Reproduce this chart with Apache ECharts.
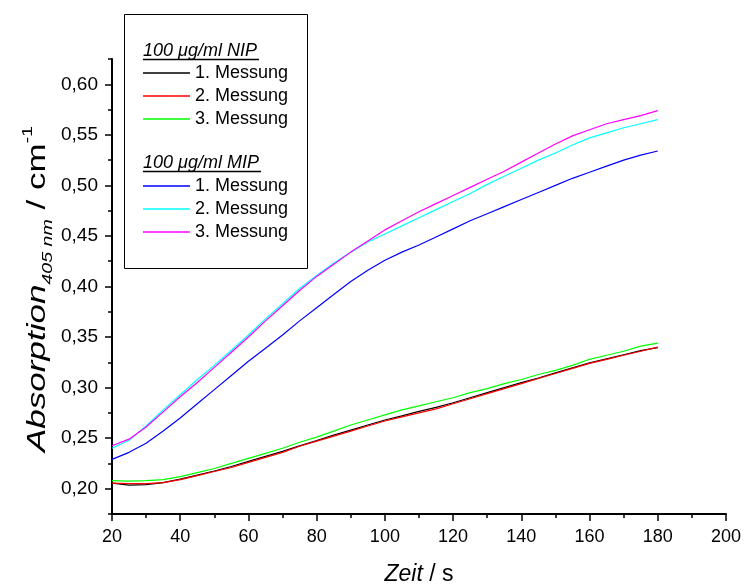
<!DOCTYPE html>
<html>
<head>
<meta charset="utf-8">
<script src="https://cdn.jsdelivr.net/npm/echarts@6/dist/echarts.min.js"></script>
<style>
html,body{margin:0;padding:0;background:#fff;}
#main{width:744px;height:585px;}
</style>
</head>
<body>
<div id="main"></div>
<script>
var myChart = echarts.init(document.getElementById('main'));

// Zeit in s
var zeit = [20,25,30,35,40,45,50,55,60,65,70,75,80,85,90,95,100,105,110,115,120,125,130,135,140,145,150,155,160,165,170,175,180];

// 100 ug/ml NIP
var nip1 = [0.2055,0.2035,0.204,0.206,0.2095,0.2135,0.2175,0.222,0.227,0.232,0.237,0.2425,0.2475,0.253,0.258,0.263,0.268,0.272,0.2765,0.2805,0.285,0.290,0.295,0.300,0.305,0.3095,0.3145,0.3195,0.3245,0.3285,0.3325,0.3365,0.3395];
var nip2 = [0.2055,0.205,0.205,0.206,0.209,0.213,0.217,0.221,0.226,0.231,0.236,0.242,0.247,0.252,0.257,0.262,0.267,0.271,0.275,0.279,0.284,0.289,0.294,0.299,0.304,0.309,0.314,0.319,0.324,0.328,0.332,0.336,0.340];
var nip3 = [0.208,0.2075,0.208,0.209,0.212,0.216,0.220,0.225,0.230,0.235,0.240,0.246,0.251,0.257,0.263,0.268,0.273,0.278,0.282,0.286,0.290,0.295,0.299,0.304,0.308,0.313,0.317,0.322,0.328,0.332,0.336,0.341,0.344];

// 100 ug/ml MIP
var mip1 = [0.229,0.236,0.245,0.257,0.270,0.284,0.298,0.312,0.326,0.339,0.352,0.366,0.379,0.392,0.405,0.416,0.426,0.434,0.441,0.449,0.457,0.465,0.472,0.479,0.486,0.493,0.500,0.507,0.513,0.519,0.525,0.530,0.534];
var mip2 = [0.240,0.248,0.262,0.278,0.293,0.308,0.322,0.337,0.352,0.368,0.383,0.398,0.411,0.423,0.434,0.444,0.452,0.460,0.468,0.476,0.484,0.492,0.501,0.509,0.517,0.525,0.532,0.540,0.547,0.552,0.557,0.561,0.565];
var mip3 = [0.2425,0.249,0.261,0.276,0.291,0.305,0.320,0.335,0.350,0.366,0.381,0.396,0.410,0.422,0.434,0.445,0.456,0.465,0.474,0.482,0.490,0.498,0.506,0.514,0.523,0.532,0.541,0.549,0.555,0.561,0.565,0.569,0.574];

var yTicks = [0.20,0.25,0.30,0.35,0.40,0.45,0.50,0.55,0.60];

var font = 'Liberation Sans';

function pairs(ys){
	return zeit.map(function(x, i){ return [x, ys[i]]; });
}

function mkSeries(name, data, color){
	return {
		name: name,
		type: 'line',
		data: pairs(data),
		symbol: 'none',
		smooth: false,
		animation: false,
		lineStyle: {color: color, width: 1.2},
		itemStyle: {color: color}
	};
}

function mkLegend(names, top){
	return {
		orient: 'vertical',
		left: 138, top: top,
		icon: 'rect',
		itemWidth: 47, itemHeight: 1.5, itemGap: 5,
		selectedMode: false,
		data: names,
		formatter: function(n){ return n.slice(-1) + '. Messung'; },
		textStyle: {fontFamily: font, fontSize: 18, color: '#000'}
	};
}

var option = {
	animation: false,
	grid: {left: 112, right: 18, top: 59, bottom: 71, outerBoundsMode: 'none', containLabel: false},
	xAxis: {
		type: 'value',
		min: 20, max: 200, interval: 20,
		name: '{a|Zeit}{b| / s}',
		nameLocation: 'middle',
		nameGap: 49,
		nameTextStyle: {
			rich: {
				a: {fontFamily: font, fontSize: 23, fontStyle: 'italic', color: '#000'},
				b: {fontFamily: font, fontSize: 23, color: '#000'}
			}
		},
		axisLine: {lineStyle: {color: '#000', width: 2}},
		axisTick: {length: 7, lineStyle: {color: '#000', width: 1.5}},
		minorTick: {show: true, splitNumber: 2, length: 4, lineStyle: {color: '#000', width: 1.5}},
		axisLabel: {fontFamily: font, fontSize: 18, color: '#000', margin: 14},
		splitLine: {show: false}
	},
	yAxis: [{
		type: 'value',
		min: 0.175, max: 0.625, interval: 0.025,
		axisLine: {lineStyle: {color: '#000', width: 2}},
		axisTick: {length: 7, customValues: yTicks, lineStyle: {color: '#000', width: 1.5}},
		axisLabel: {
			fontFamily: font, fontSize: 19, color: '#000', margin: 14,
			customValues: yTicks,
			formatter: function(v){ return v.toFixed(2).replace('.', ','); }
		},
		splitLine: {show: false}
	}, {
		type: 'value',
		position: 'left',
		min: 0.175, max: 0.625, interval: 0.025,
		axisLine: {show: false},
		axisTick: {length: 4, lineStyle: {color: '#000', width: 1.5}},
		axisLabel: {show: false},
		splitLine: {show: false}
	}],
	legend: [
		mkLegend(['NIP 1', 'NIP 2', 'NIP 3'], 59),
		mkLegend(['MIP 1', 'MIP 2', 'MIP 3'], 172)
	],
	graphic: [
		{type: 'rect', z: 0, shape: {x: 124.5, y: 14.5, width: 183, height: 254}, style: {fill: '#fff', stroke: '#000', lineWidth: 1}},
		{type: 'text', z: 10, left: 143, top: 42, style: {text: '100 \u03bcg/ml NIP', font: 'italic 18px "Liberation Sans"', fill: '#000'}},
		{type: 'line', z: 10, shape: {x1: 143, y1: 59.5, x2: 259, y2: 59.5}, style: {stroke: '#000', lineWidth: 1.5}},
		{type: 'text', z: 10, left: 143, top: 154, style: {text: '100 \u03bcg/ml MIP', font: 'italic 18px "Liberation Sans"', fill: '#000'}},
		{type: 'line', z: 10, shape: {x1: 143, y1: 171.5, x2: 261, y2: 171.5}, style: {stroke: '#000', lineWidth: 1.5}},
		// y axis title, stretched along its length like the original
		{
			type: 'text', z: 10, x: 38, y: 289,
			rotation: Math.PI / 2, scaleX: 1.4, scaleY: 1,
			style: {
				text: '{a|Absorption}{s|405 nm}{b| / cm}{p|-1}',
				align: 'center', verticalAlign: 'middle',
				rich: {
					a: {fontFamily: font, fontSize: 25, fontStyle: 'italic', fill: '#000', lineHeight: 34},
					s: {fontFamily: font, fontSize: 14, fontStyle: 'italic', fill: '#000', verticalAlign: 'bottom', lineHeight: 34},
					b: {fontFamily: font, fontSize: 25, fill: '#000', lineHeight: 34},
					p: {fontFamily: font, fontSize: 14, fill: '#000', verticalAlign: 'top', lineHeight: 34}
				}
			}
		}
	],
	series: [
		mkSeries('NIP 1', nip1, '#000000'),
		mkSeries('NIP 2', nip2, '#ff0000'),
		mkSeries('NIP 3', nip3, '#00ff00'),
		mkSeries('MIP 1', mip1, '#0000ff'),
		mkSeries('MIP 2', mip2, '#00ffff'),
		mkSeries('MIP 3', mip3, '#ff00ff')
	]
};

myChart.setOption(option);
</script>
</body>
</html>
